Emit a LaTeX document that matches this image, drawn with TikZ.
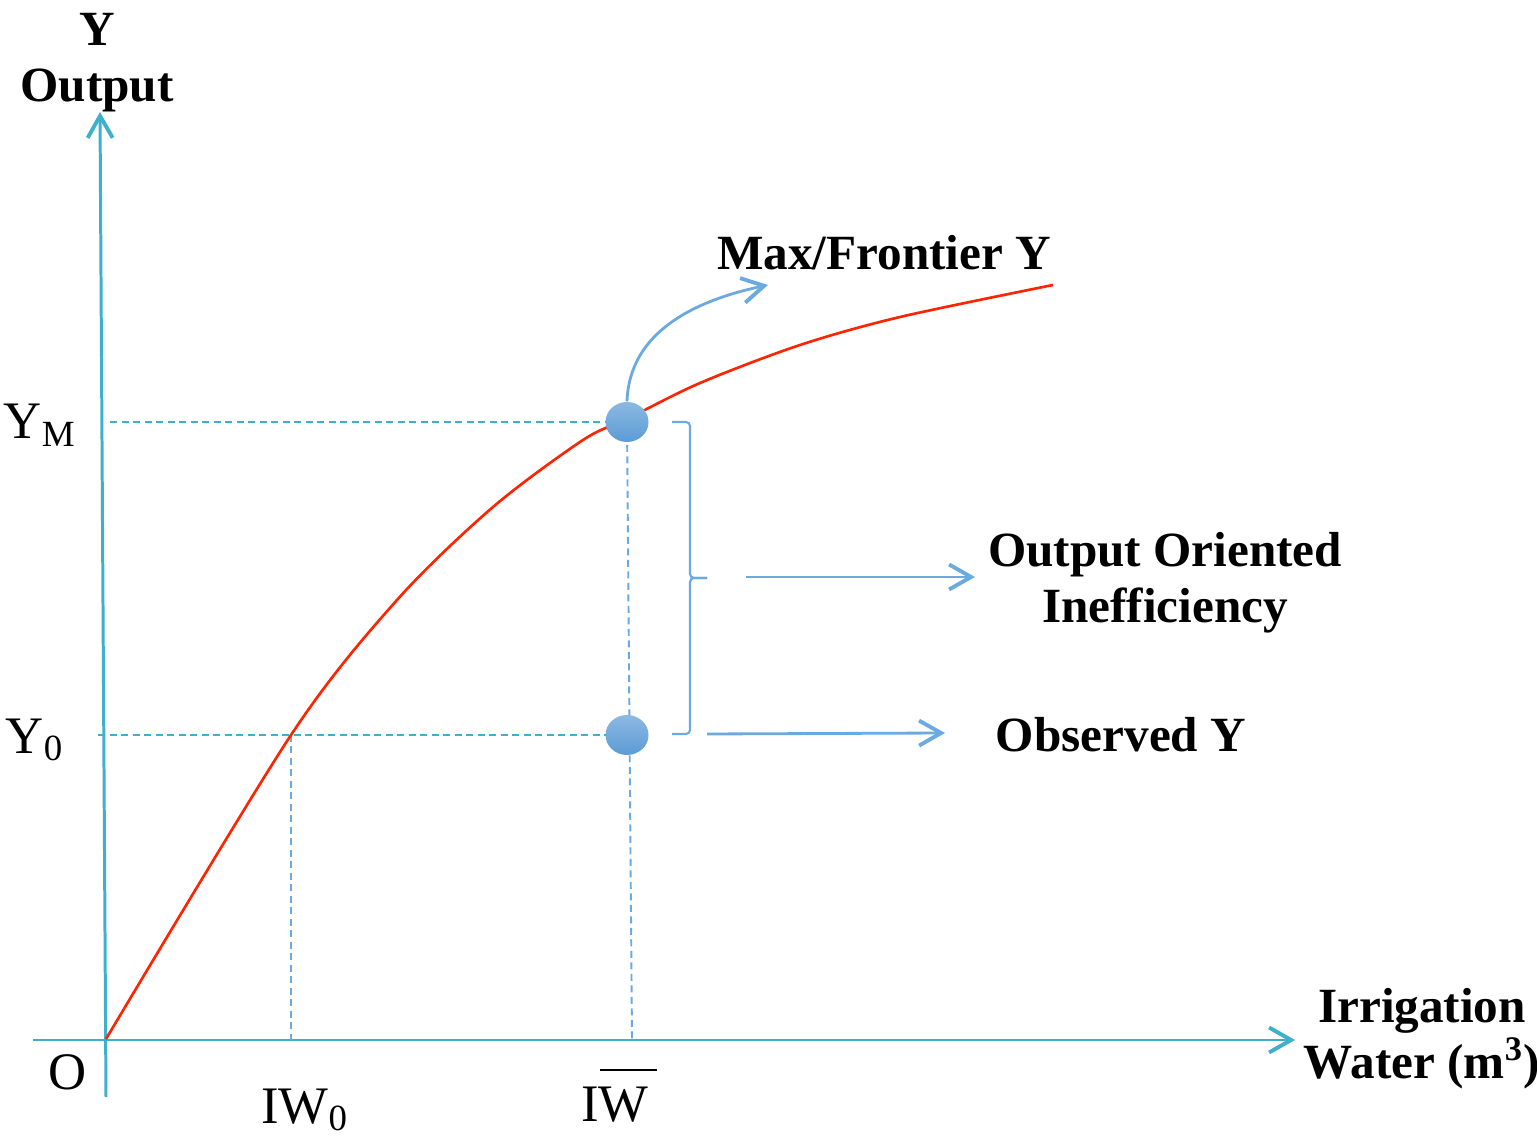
\documentclass[tikz,border=0pt]{standalone}
\usepackage{fontspec}
\setmainfont{Liberation Serif}
\usetikzlibrary{arrows.meta,shapes.geometric}
\definecolor{axisblue}{RGB}{62,176,204}
\definecolor{dotblue}{RGB}{91,155,213}
\definecolor{linkblue}{RGB}{106,170,224}
\definecolor{frontred}{RGB}{255,36,0}
\tikzset{
  axisl/.style={axisblue,line width=0.85pt,-{Straight Barb[length=2.2mm,width=2.5mm,line width=1.1pt]}},
  guide/.style={axisblue,line width=0.55pt,dash pattern=on 0.7mm off 0.45mm},
  drop/.style={linkblue,line width=0.55pt,dash pattern=on 0.7mm off 0.45mm},
  link/.style={linkblue,line width=0.8pt,-{Straight Barb[length=2.2mm,width=2.5mm,line width=1.1pt]}},
  pt/.style={ellipse,minimum width=0.43cm,minimum height=0.40cm,inner sep=0pt,top color=dotblue!70,bottom color=dotblue},
  lbl/.style={font=\fontsize{14}{16}\selectfont\bfseries,align=center,inner sep=0pt},
  tk/.style={font=\fontsize{15}{17}\selectfont,inner sep=0pt}
}
\begin{document}
\begin{tikzpicture}
\useasboundingbox (0,0) rectangle (15.37,11.38);
% axes
\coordinate (o) at (1.05,0.98);
\coordinate (ybot) at (1.06,0.41);
\coordinate (ytop) at (1.00,10.26);
\coordinate (xleft) at (0.33,0.98);
\coordinate (xright) at (12.95,0.98);
\draw[axisl] (ybot) -- (ytop);
\draw[axisl] (xleft) -- (xright);
% guides
\coordinate (ymax) at (1.10,7.16);
\coordinate (yoax) at (0.98,4.03);
\coordinate (iwo) at (2.91,4.03);
\coordinate (iwoax) at (2.91,0.98);
\coordinate (iwax) at (6.32,0.98);
\foreach \n/\y in {ym/7.16,yo/4.03}{\coordinate (\n c) at (6.27,\y);}
\draw[drop] (ymc) -- (iwax);
\draw[drop] (iwo) -- (iwoax);
\draw[guide] (ymax) -- (ymc);
\draw[guide] (yoax) -- (yoc);
% frontier
\draw[frontred,line width=0.75pt] plot[smooth,tension=0.5] coordinates {(1.06,0.99) (2.91,4.03) (3.97,5.38) (4.93,6.31) (5.83,6.98) (6.27,7.19) (7.00,7.55) (8.00,7.93) (9.00,8.21) (10.53,8.53)};
% points
\foreach \n/\y in {ym/7.16,yo/4.03}{\node[pt] (\n) at (6.27,\y) {};}
% brace
\coordinate (bt) at (6.72,7.16);
\coordinate (bb) at (6.72,4.04);
\coordinate (btip) at (7.07,5.60);
\draw[linkblue,line width=0.6pt,rounded corners=0.4mm] (bt) -- (6.90,7.16) -- (6.90,5.60) -- (btip);
\draw[linkblue,line width=0.6pt,rounded corners=0.4mm] (btip) -- (6.90,5.60) -- (6.90,4.04) -- (bb);
% labels
\node[lbl] (maxl) at (8.84,8.85) {Max/Frontier Y};
\node[lbl] (oil) at (11.65,5.55) {Output Oriented\\Inefficiency};
\node[lbl] (obsl) at (11.21,4.03) {Observed Y};
\node[lbl] (yl) at (0.97,10.75) {Y\\Output};
\node[lbl] (xl) at (14.22,0.99) {Irrigation\\Water (m\textsuperscript{3})};
\coordinate (maxe) at (7.68,8.53);
\coordinate (ois) at (7.46,5.61);
\coordinate (oie) at (9.75,5.61);
\coordinate (obss) at (7.07,4.04);
\coordinate (obse) at (9.45,4.05);
\draw[link] (ym.north) to[out=88,in=192] (maxe);
\draw[link] (ois) -- (oie);
\draw[link] (obss) -- (obse);
% tick labels
\node[tk] (yml) at (0.40,7.13) {Y\textsubscript{M}};
\node[tk] (yol) at (0.35,3.98) {Y\textsubscript{0}};
\node[tk] (ol) at (0.68,0.66) {O};
\node[tk] (iwol) at (3.05,0.28) {IW\textsubscript{0}};
\node[tk] (iwl) at (6.15,0.33) {IW};
\draw[black,line width=0.5pt] (6.00,0.68) -- (6.57,0.68);
\end{tikzpicture}
\end{document}
